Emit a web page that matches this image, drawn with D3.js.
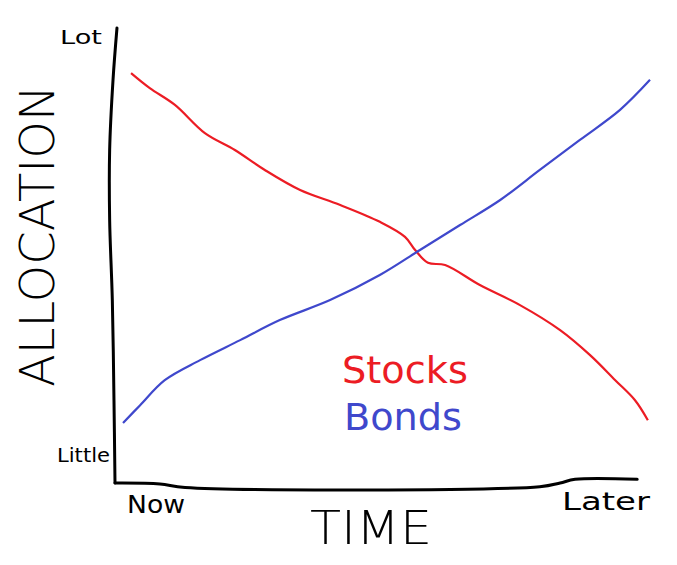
<!DOCTYPE html>
<html><head><meta charset="utf-8">
<script src="https://cdn.jsdelivr.net/npm/d3@7"></script>
<style>body{margin:0;background:#fff}svg{display:block}</style>
</head><body><svg id="c" width="677" height="565"></svg>
<script>
// time (0 = Now, 100 = Later), allocation (0 = Little, 100 = Lot)
const stocksX = [3.0,6.5,11.2,16.8,22.4,28.0,34.6,42.1,49.5,54.2,56.1,58.5,61.7,68.2,75.7,83.2,88.8,93.5,97.2,99.6];
const stocksY = [90.1,86.8,83.1,76.9,73.2,68.8,64.4,61.1,57.4,54.1,51.2,48.4,47.9,43.5,39.1,33.6,28.1,22.6,18.2,13.8];
const bondsX = [1.5,4.7,9.3,15.9,23.4,30.8,40.2,49.5,57.0,64.5,72.0,79.4,86.9,94.4,100];
const bondsY = [13.2,17.1,22.6,27.0,31.4,35.8,40.2,45.7,51.2,56.7,62.2,68.8,75.4,82.0,88.6];
const yAxisX = [0.37,-0.37,-1.0,-1.0,-0.5,-0.19,0];
const yAxisY = [100,88.6,73.2,57.8,40.2,18.2,0];
const xAxisX = [0,8.4,13.1,79.4,83.2,86.0,97.6];
const xAxisY = [0,-0.2,-1.0,-0.8,0,0.8,0.8];
const yTickLabels = ["Little","Lot"];
const xTickLabels = ["Now","Later"];
const seriesNames = ["Stocks","Bonds"];

const svg = d3.select("#c");
const x = d3.scaleLinear().domain([0,100]).range([115,650]);
const y = d3.scaleLinear().domain([0,100]).range([483,28]);
const line = d3.line().x(d=>x(d[0])).y(d=>y(d[1])).curve(d3.curveCatmullRom);
const RED = "#ec1c24", BLUE = "#3f48cc";
const font = "'DejaVu Sans', sans-serif";

svg.append("path").datum(d3.zip(yAxisX,yAxisY)).attr("d",line)
  .attr("fill","none").attr("stroke","#000").attr("stroke-width",3).attr("stroke-linecap","round");
svg.append("path").datum(d3.zip(xAxisX,xAxisY)).attr("d",line)
  .attr("fill","none").attr("stroke","#000").attr("stroke-width",3).attr("stroke-linecap","round");

svg.append("path").datum(d3.zip(stocksX,stocksY)).attr("d",line)
  .attr("fill","none").attr("stroke",RED).attr("stroke-width",2.2);
svg.append("path").datum(d3.zip(bondsX,bondsY)).attr("d",line)
  .attr("fill","none").attr("stroke",BLUE).attr("stroke-width",2.2);

// tick labels
svg.append("text").text(yTickLabels[1]).attr("x",60).attr("y",44)
  .attr("font-family",font).attr("font-size",20).attr("textLength",42).attr("lengthAdjust","spacingAndGlyphs");
svg.append("text").text(yTickLabels[0]).attr("x",57).attr("y",462)
  .attr("font-family",font).attr("font-size",20).attr("textLength",53).attr("lengthAdjust","spacingAndGlyphs");
svg.append("text").text(xTickLabels[0]).attr("x",127).attr("y",513)
  .attr("font-family",font).attr("font-size",24).attr("textLength",58).attr("lengthAdjust","spacingAndGlyphs");
svg.append("text").text(xTickLabels[1]).attr("x",562).attr("y",510)
  .attr("font-family",font).attr("font-size",24).attr("textLength",88).attr("lengthAdjust","spacingAndGlyphs");

// axis titles
svg.append("text").text("TIME").attr("x",310).attr("y",544)
  .attr("font-family",font).attr("font-size",46).attr("font-weight",300)
  .attr("textLength",122).attr("lengthAdjust","spacingAndGlyphs");
svg.append("text").text("ALLOCATION")
  .attr("transform","translate(54,387) rotate(-90)")
  .attr("font-family",font).attr("font-size",48).attr("font-weight",300)
  .attr("textLength",302).attr("lengthAdjust","spacingAndGlyphs");

// legend
svg.append("text").text(seriesNames[0]).attr("x",342).attr("y",383).attr("fill",RED)
  .attr("font-family",font).attr("font-size",38).attr("textLength",126).attr("lengthAdjust","spacingAndGlyphs");
svg.append("text").text(seriesNames[1]).attr("x",344).attr("y",430).attr("fill",BLUE)
  .attr("font-family",font).attr("font-size",38).attr("textLength",118).attr("lengthAdjust","spacingAndGlyphs");
</script></body></html>
